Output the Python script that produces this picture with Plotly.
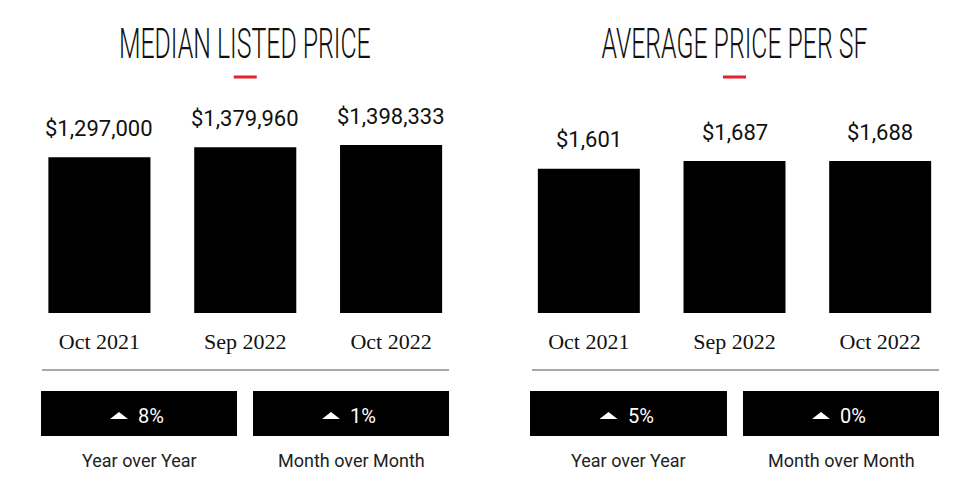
import plotly.graph_objects as go

categories = ["Oct 2021", "Sep 2022", "Oct 2022"]
median_price = [1297000, 1379960, 1398333]
price_per_sf = [1601, 1687, 1688]
median_labels = ["$1,297,000", "$1,379,960", "$1,398,333"]
sf_labels = ["$1,601", "$1,687", "$1,688"]
titles = ["MEDIAN LISTED PRICE", "AVERAGE PRICE PER SF"]
median_changes = ["8%", "1%"]
sf_changes = ["5%", "0%"]
change_captions = ["Year over Year", "Month over Month"]

W, H = 980, 490
def py(pix):
    return 1 - pix / H
def px(pix):
    return pix / W

fig = go.Figure()

panels = [
    dict(vals=median_price, labels=median_labels, changes=median_changes, title=titles[0],
         xdom=(26.5, 464), top_px=145, xa="x", ya="y", line=(42, 449),
         boxes=[(41, 237), (253, 449)]),
    dict(vals=price_per_sf, labels=sf_labels, changes=sf_changes, title=titles[1],
         xdom=(516, 953), top_px=161, xa="x2", ya="y2", line=(532, 939),
         boxes=[(530, 727), (743, 939)]),
]

bottom_px, dom_top_px = 313, 60
annotations = []
shapes = []
for i, p in enumerate(panels):
    fig.add_trace(go.Bar(x=categories, y=p["vals"], marker=dict(color="#000000", line=dict(width=0)),
                         xaxis=p["xa"], yaxis=p["ya"], hoverinfo="skip", showlegend=False))
    ymax = max(p["vals"]) * (bottom_px - dom_top_px) / (bottom_px - p["top_px"])
    sfx = "" if i == 0 else "2"
    fig.layout["xaxis" + sfx] = dict(domain=[px(p["xdom"][0]), px(p["xdom"][1])], anchor=p["ya"],
                                     showgrid=False, zeroline=False, showline=False, ticks="",
                                     tickfont=dict(family="Liberation Serif, DejaVu Serif, serif", size=22, color="#111"),
                                     ticklabelstandoff=13, fixedrange=True)
    fig.layout["yaxis" + sfx] = dict(domain=[py(bottom_px), py(dom_top_px)], anchor=p["xa"],
                                     range=[0, ymax], visible=False, fixedrange=True)
    for c, v, lab in zip(categories, p["vals"], p["labels"]):
        annotations.append(dict(x=c, y=v, xref=p["xa"], yref=p["ya"], text=lab, showarrow=False,
                                yanchor="middle", yshift=29,
                                font=dict(family="Roboto, DejaVu Sans, sans-serif", size=22, color="#111")))
    cx = (p["xdom"][0] + p["xdom"][1]) / 2
    annotations.append(dict(x=px(cx), y=py(43), xref="paper", yref="paper", text=p["title"],
                            showarrow=False, xanchor="center", yanchor="middle",
                            font=dict(family="Roboto, sans-serif", weight=300, size=43, color="#111")))
    shapes.append(dict(type="line", xref="paper", yref="paper", x0=px(cx - 11.5), x1=px(cx + 11.5),
                       y0=py(77), y1=py(77), line=dict(color="#e3232c", width=3)))
    shapes.append(dict(type="line", xref="paper", yref="paper", x0=px(p["line"][0]), x1=px(p["line"][1]),
                       y0=py(370), y1=py(370), line=dict(color="#8c8c8c", width=1.5)))
    for (bx0, bx1), ch, cap in zip(p["boxes"], p["changes"], change_captions):
        shapes.append(dict(type="rect", xref="paper", yref="paper", x0=px(bx0), x1=px(bx1),
                           y0=py(436), y1=py(391), fillcolor="#000000", line=dict(width=0)))
        bc = (bx0 + bx1) / 2
        tx0, tx1, ty0, ty1 = px(bc - 29), px(bc - 11), py(419), py(412)
        shapes.append(dict(type="path", xref="paper", yref="paper",
                           path=f"M {tx0} {ty0} L {tx1} {ty0} L {(tx0 + tx1) / 2} {ty1} Z",
                           fillcolor="#ffffff", line=dict(width=0)))
        annotations.append(dict(x=px(bc - 3), y=py(415.5), xref="paper", yref="paper", text=ch,
                                showarrow=False, xanchor="left", yanchor="middle",
                                font=dict(family="Roboto, DejaVu Sans, sans-serif", size=20, color="#ffffff")))
        annotations.append(dict(x=px(bc), y=py(460), xref="paper", yref="paper", text=cap,
                                showarrow=False, xanchor="center", yanchor="middle",
                                font=dict(family="Roboto, DejaVu Sans, sans-serif", size=18, color="#222")))

fig.update_layout(width=W, height=H, margin=dict(l=0, r=0, t=0, b=0),
                  paper_bgcolor="#ffffff", plot_bgcolor="#ffffff", bargap=0.3,
                  annotations=annotations, shapes=shapes, showlegend=False)

post_js = """
document.body.style.margin='0';
var gd=document.getElementById('{plot_id}');
var targets={'MEDIAN LISTED PRICE':252,'AVERAGE PRICE PER SF':266};
gd.querySelectorAll('.annotation-text').forEach(function(t){
  var w=targets[t.textContent];
  if(w){
    var bb=t.getBBox(); var s=w/bb.width; var c=bb.x+bb.width/2;
    var old=t.getAttribute('transform')||'';
    t.setAttribute('transform','translate('+c+',0) scale('+s+',1) translate('+(-c)+',0) '+old);
  }
});
"""
fig.write_html("out.html", config={"displayModeBar": False}, post_script=post_js)
